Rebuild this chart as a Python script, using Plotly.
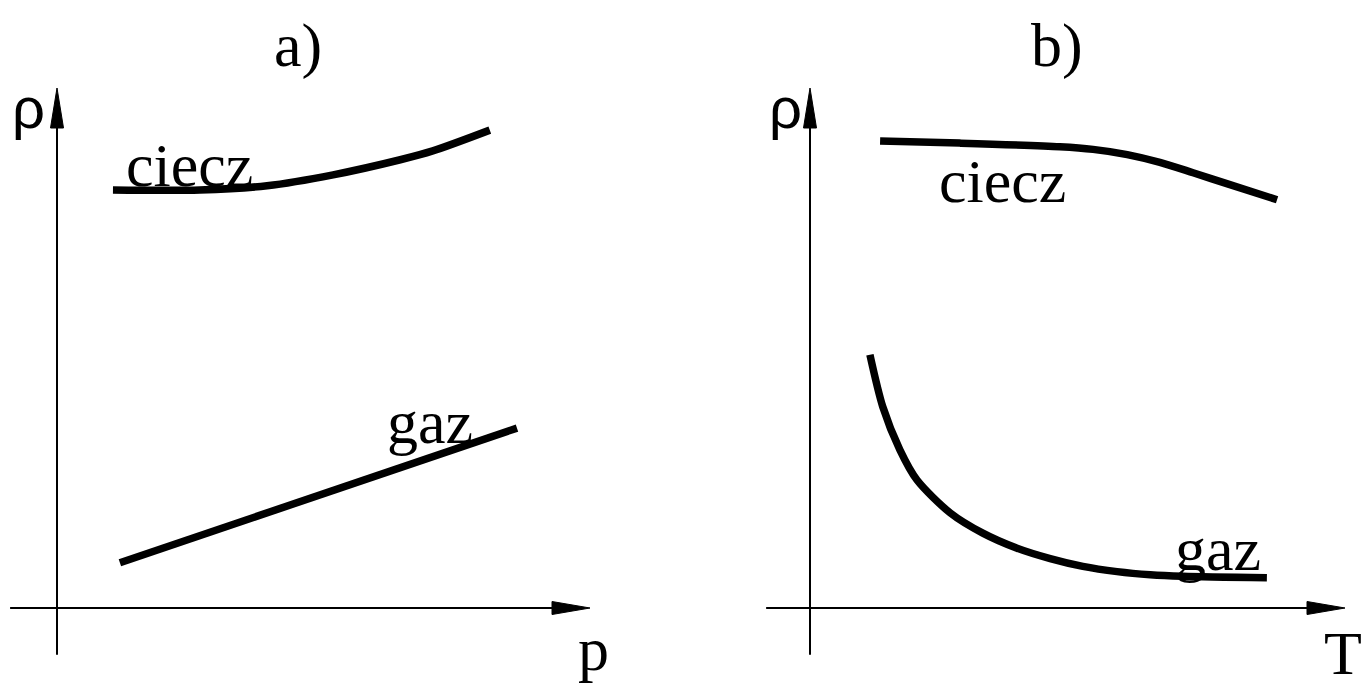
import plotly.graph_objects as go

# ---- data (in plot units; origin at the crossing of the axes) ----
# panel a) density vs pressure
p_ciecz = [1.05, 2.68, 3.94, 5.18, 6.44, 7.05, 8.12]
rho_ciecz_p = [8.04, 8.04, 8.12, 8.33, 8.62, 8.79, 9.19]
p_gaz = [1.18, 8.63]
rho_gaz_p = [0.87, 3.46]

# panel b) density vs temperature
T_ciecz = [1.31, 2.80, 4.67, 5.29, 5.93, 6.54, 7.16, 7.79, 8.73]
rho_ciecz_T = [8.98, 8.94, 8.87, 8.82, 8.72, 8.57, 8.37, 8.16, 7.85]
T_gaz = [1.12, 1.36, 1.68, 2.00, 2.62, 3.23, 3.87, 4.49, 5.10, 5.74, 6.36, 6.97, 8.54]
rho_gaz_T = [4.87, 3.87, 3.04, 2.46, 1.83, 1.44, 1.15, 0.95, 0.80, 0.70, 0.64, 0.61, 0.58]

# axis extents (start, arrow tip)
x_axis_a = [-0.88, 10.0]
x_axis_b = [-0.82, 10.0]
y_axis = [-0.90, 10.0]

W, H = 1365, 687
SERIF = "Liberation Serif"
FS = 62

fig = go.Figure()

CURVE = dict(color="black", width=7.5)
AXIS = dict(color="black", width=2)


def add_axes(xa, ya, xext, yext, head_len_x, head_len_y, hw_x, hw_y):
    # horizontal axis line + arrowhead
    fig.add_trace(go.Scatter(x=[xext[0], xext[1] - head_len_x], y=[0, 0], mode="lines",
                             line=AXIS, xaxis=xa, yaxis=ya, hoverinfo="skip"))
    fig.add_trace(go.Scatter(x=[xext[1], xext[1] - head_len_x, xext[1] - head_len_x, xext[1]],
                             y=[0, hw_y, -hw_y, 0], mode="lines", fill="toself",
                             fillcolor="black", line=dict(color="black", width=1),
                             xaxis=xa, yaxis=ya, hoverinfo="skip"))
    # vertical axis line + arrowhead
    fig.add_trace(go.Scatter(x=[0, 0], y=[yext[0], yext[1] - head_len_y], mode="lines",
                             line=AXIS, xaxis=xa, yaxis=ya, hoverinfo="skip"))
    fig.add_trace(go.Scatter(x=[0, hw_x, -hw_x, 0],
                             y=[yext[1], yext[1] - head_len_y, yext[1] - head_len_y, yext[1]],
                             mode="lines", fill="toself", fillcolor="black",
                             line=dict(color="black", width=1),
                             xaxis=xa, yaxis=ya, hoverinfo="skip"))


# px per unit for each panel
sx_a, sx_b, sy = 53.3, 53.5, 52.0
add_axes("x", "y", x_axis_a, y_axis, 38 / sx_a, 40 / sy, 6.5 / sx_a, 6.5 / sy)
add_axes("x2", "y2", x_axis_b, y_axis, 38 / sx_b, 40 / sy, 6.5 / sx_b, 6.5 / sy)

# curves
SPL = dict(shape="spline", smoothing=0.8, **CURVE)
fig.add_trace(go.Scatter(x=p_ciecz, y=rho_ciecz_p, mode="lines", line=SPL,
                         xaxis="x", yaxis="y", name="ciecz"))
fig.add_trace(go.Scatter(x=p_gaz, y=rho_gaz_p, mode="lines", line=CURVE,
                         xaxis="x", yaxis="y", name="gaz"))
fig.add_trace(go.Scatter(x=T_ciecz, y=rho_ciecz_T, mode="lines", line=SPL,
                         xaxis="x2", yaxis="y2", name="ciecz"))
fig.add_trace(go.Scatter(x=T_gaz, y=rho_gaz_T, mode="lines", line=SPL,
                         xaxis="x2", yaxis="y2", name="gaz"))


def label(text, x, y, xr, yr, size=FS, family=SERIF, xanchor="center"):
    fig.add_annotation(text=text, x=x, y=y, xref=xr, yref=yr, showarrow=False,
                       xanchor=xanchor, yanchor="middle",
                       font=dict(family=family, size=size, color="black"))


label("a)", 4.52, 10.81, "x", "y")
label("b)", 4.62, 10.81, "x2", "y2")
label("ciecz", 2.48, 8.52, "x", "y")
label("gaz", 7.0, 3.58, "x", "y")
label("ciecz", 3.59, 8.21, "x2", "y2")
label("gaz", 7.63, 1.13, "x2", "y2")
label("ρ", -0.54, 9.62, "x", "y", size=58, family="Liberation Sans")
label("ρ", -0.45, 9.62, "x2", "y2", size=58, family="Liberation Sans")
label("p", 10.06, -0.79, "x", "y")
label("T", 10.36, -0.86, "x2", "y2", xanchor="right")

ax_common = dict(visible=False, showgrid=False, zeroline=False, fixedrange=True)
fig.update_layout(
    width=W, height=H,
    margin=dict(l=0, r=0, t=0, b=0),
    paper_bgcolor="white", plot_bgcolor="white",
    showlegend=False,
    xaxis=dict(domain=[0, 0.5], range=[-57 / sx_a, (W / 2 - 57) / sx_a], **ax_common),
    yaxis=dict(domain=[0, 1], range=[(608 - H) / sy, 608 / sy], **ax_common),
    xaxis2=dict(domain=[0.5, 1], range=[(W / 2 - 810) / sx_b, (W - 810) / sx_b], anchor="y2", **ax_common),
    yaxis2=dict(domain=[0, 1], range=[(608 - H) / sy, 608 / sy], anchor="x2", **ax_common),
)

fig.write_html("out.html")
